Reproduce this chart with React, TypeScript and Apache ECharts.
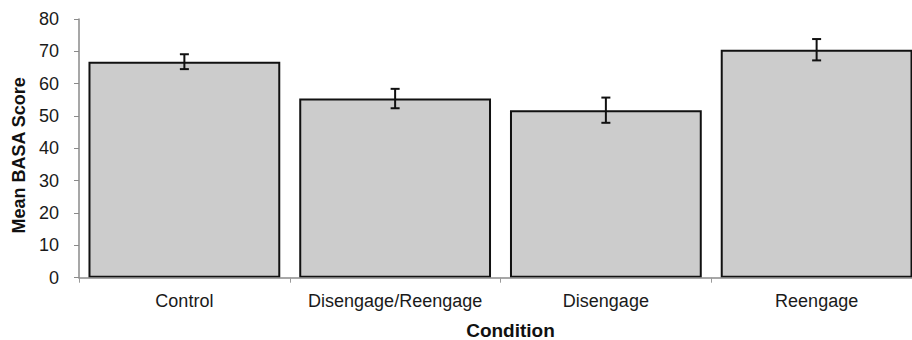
import React, { useEffect, useRef } from "react";
import * as echarts from "echarts";

const categories = ["Control", "Disengage/Reengage", "Disengage", "Reengage"];
const meanScores = [66.8, 55.4, 51.8, 70.5];
const errorSizes = [2.3, 3.0, 3.9, 3.3];
const yTicks = [0, 10, 20, 30, 40, 50, 60, 70, 80];

const FONT = "'Liberation Sans', Arial, Helvetica, sans-serif";

export default function App() {
  const ref = useRef<HTMLDivElement>(null);
  useEffect(() => {
    if (!ref.current) return;
    const chart = echarts.init(ref.current, null, { renderer: "svg" });
    const errData = categories.map((_, i) => [i, meanScores[i] - errorSizes[i], meanScores[i] + errorSizes[i]]);
    chart.setOption({
      animation: false,
      backgroundColor: "#ffffff",
      textStyle: { fontFamily: FONT },
      grid: { left: 79, top: 19, width: 843, bottom: 62.3, containLabel: false, outerBoundsMode: "none" },
      xAxis: {
        type: "category",
        data: categories,
        z: 5,
        axisLine: { show: true, lineStyle: { color: "#8a8a8a", width: 1.5 } },
        axisTick: { show: true, length: 5, lineStyle: { color: "#9a9a9a", width: 1 } },
        axisLabel: { color: "#1a1a1a", fontSize: 18, margin: 14, interval: 0, fontFamily: FONT },
        name: "Condition",
        nameLocation: "middle",
        nameGap: 43,
        nameTextStyle: { color: "#111", fontSize: 19, lineHeight: 19, fontWeight: "bold", fontFamily: FONT, padding: [0, 0, 0, 20] },
      },
      yAxis: {
        type: "value",
        min: yTicks[0],
        max: yTicks[yTicks.length - 1],
        interval: 10,
        splitLine: { show: false },
        axisLine: { show: true, lineStyle: { color: "#8a8a8a", width: 1.5 } },
        axisTick: { show: true, length: 5, lineStyle: { color: "#8a8a8a", width: 1 } },
        axisLabel: { color: "#1a1a1a", fontSize: 18, margin: 20, fontFamily: FONT },
        name: "Mean BASA Score",
        nameLocation: "middle",
        nameGap: 50,
        nameTextStyle: { color: "#111", fontSize: 18, fontWeight: "bold", fontFamily: FONT, padding: [0, 14, 0, 0] },
      },
      series: [
        {
          type: "bar",
          data: meanScores,
          barCategoryGap: "9%",
          itemStyle: { color: "#cccccc", borderColor: "#111111", borderWidth: 2 },
        },
        {
          type: "custom",
          data: errData,
          z: 10,
          renderItem: (params: any, api: any) => {
            const x = api.value(0);
            const lo = api.coord([x, api.value(1)]);
            const hi = api.coord([x, api.value(2)]);
            const cap = 4.5;
            const style = { stroke: "#111111", lineWidth: 2 };
            return {
              type: "group",
              children: [
                { type: "line", shape: { x1: hi[0], y1: hi[1], x2: lo[0], y2: lo[1] }, style },
                { type: "line", shape: { x1: hi[0] - cap, y1: hi[1], x2: hi[0] + cap, y2: hi[1] }, style },
                { type: "line", shape: { x1: lo[0] - cap, y1: lo[1], x2: lo[0] + cap, y2: lo[1] }, style },
              ],
            };
          },
        },
      ],
    });
    return () => chart.dispose();
  }, []);
  return <div ref={ref} style={{ width: 912, height: 340, position: "absolute", left: 0, top: 0 }} />;
}
